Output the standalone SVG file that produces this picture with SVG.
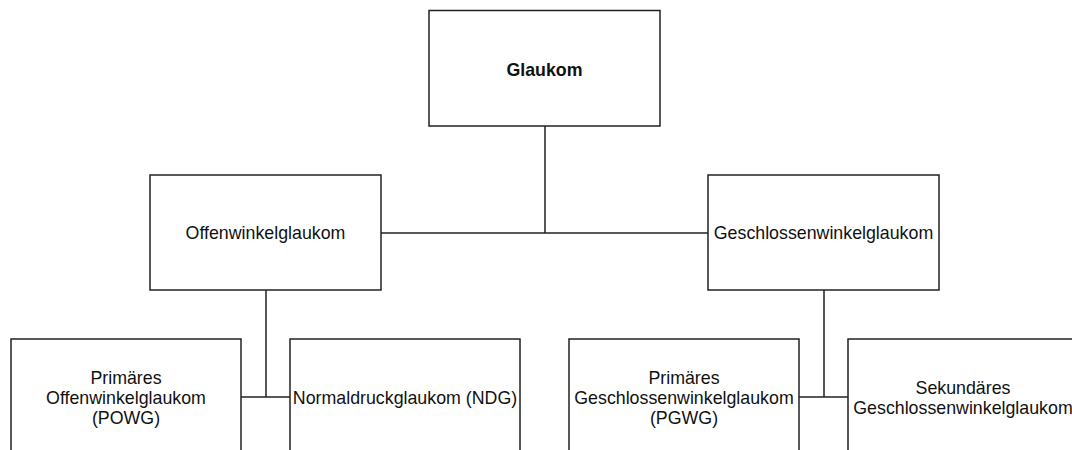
<svg xmlns="http://www.w3.org/2000/svg" width="1072" height="450" viewBox="0 0 1072 450">
<style>
.box{fill:#fff;stroke:#222;stroke-width:1.5}
.t{font-family:"Liberation Sans",Arial,sans-serif;font-size:17.8px;fill:#111;text-anchor:middle}
.b{font-weight:bold}
.c{fill:none;stroke:#222;stroke-width:1.5}
</style>
<rect width="1072" height="450" fill="#fff"/>
<g id="connectors">
<path class="c" d="M545,126 V233 M381,233 H708"/>
<path class="c" d="M266,290 V397 M241,397 H290"/>
<path class="c" d="M824,290 V397 M799,397 H848"/>
</g>
<g id="glaukom"><rect class="box" x="429" y="10.5" width="231" height="115.5"/><text class="t b" x="544.5" y="76">Glaukom</text></g>
<g id="offen"><rect class="box" x="150" y="175" width="231" height="115"/><text class="t" x="265.5" y="239">Offenwinkelglaukom</text></g>
<g id="geschlossen"><rect class="box" x="708" y="175" width="231" height="115"/><text class="t" x="823.5" y="239">Geschlossenwinkelglaukom</text></g>
<g id="powg"><rect class="box" x="11" y="339" width="230" height="130"/><text class="t" x="126" y="384">Primäres</text><text class="t" x="126" y="404">Offenwinkelglaukom</text><text class="t" x="126" y="424">(POWG)</text></g>
<g id="ndg"><rect class="box" x="290" y="339" width="230" height="130"/><text class="t" x="405" y="404">Normaldruckglaukom (NDG)</text></g>
<g id="pgwg"><rect class="box" x="569" y="339" width="230" height="130"/><text class="t" x="684" y="384">Primäres</text><text class="t" x="684" y="404">Geschlossenwinkelglaukom</text><text class="t" x="684" y="424">(PGWG)</text></g>
<g id="sekundaer"><rect class="box" x="848" y="339" width="230" height="130"/><text class="t" x="963" y="394">Sekundäres</text><text class="t" x="963" y="414">Geschlossenwinkelglaukom</text></g>
</svg>
